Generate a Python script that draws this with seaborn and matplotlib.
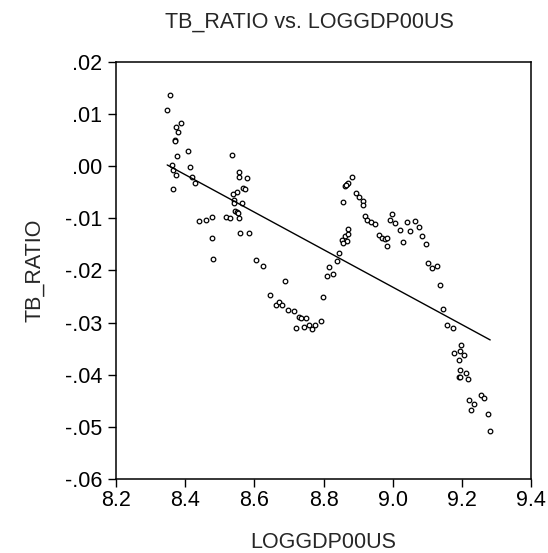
import matplotlib
matplotlib.use("Agg")
import matplotlib.pyplot as plt
import seaborn as sns
import pandas as pd

# values
loggdp = [8.356, 8.348, 8.387, 8.374, 8.380, 8.371, 8.371, 8.408, 8.377, 8.536,
          8.361, 8.415, 8.365, 8.374, 8.421, 8.556, 8.555, 8.579, 8.428, 8.365,
          8.566, 8.574, 8.550, 8.537, 8.541, 8.542, 8.564, 8.544, 8.549, 8.552,
          8.441, 8.460, 8.477, 8.519, 8.530, 8.555, 8.559, 8.585, 8.478, 8.481,
          8.606, 8.626, 8.690, 8.645, 8.662, 8.672, 8.680, 8.698, 8.714, 8.730,
          8.734, 8.749, 8.721, 8.745, 8.757, 8.767, 8.776, 8.793, 8.799, 8.810,
          8.815, 8.828, 8.839, 8.846, 8.853, 8.862, 8.867, 8.872, 8.856, 8.870,
          8.856, 8.862, 8.867, 8.872, 8.865, 8.883, 8.893, 8.903, 8.913, 8.915,
          8.920, 8.925, 8.938, 8.948, 8.961, 8.968, 8.979, 8.983, 8.984, 8.991,
          8.998, 9.006, 9.021, 9.030, 9.042, 9.049, 9.065, 9.077, 9.085, 9.096,
          9.101, 9.114, 9.128, 9.137, 9.145, 9.157, 9.174, 9.199, 9.177, 9.196,
          9.207, 9.193, 9.196, 9.213, 9.192, 9.196, 9.219, 9.254, 9.263, 9.221,
          9.235, 9.226, 9.276, 9.282]
tb_ratio = [0.0137, 0.0108, 0.0083, 0.0075, 0.0065, 0.0050, 0.0048, 0.0029, 0.0020, 0.0022,
            0.0002, -0.0001, -0.0008, -0.0016, -0.0020, -0.0011, -0.0020, -0.0022, -0.0033, -0.0043,
            -0.0042, -0.0044, -0.0049, -0.0053, -0.0065, -0.0071, -0.0071, -0.0086, -0.0087, -0.0089,
            -0.0106, -0.0103, -0.0098, -0.0097, -0.0100, -0.0099, -0.0129, -0.0128, -0.0138, -0.0178,
            -0.0180, -0.0192, -0.0221, -0.0248, -0.0266, -0.0260, -0.0266, -0.0275, -0.0277, -0.0289,
            -0.0292, -0.0292, -0.0310, -0.0308, -0.0304, -0.0313, -0.0304, -0.0297, -0.0250, -0.0210,
            -0.0194, -0.0206, -0.0181, -0.0166, -0.0141, -0.0134, -0.0143, -0.0131, -0.0148, -0.0120,
            -0.0069, -0.0038, -0.0035, -0.0033, -0.0036, -0.0020, -0.0051, -0.0060, -0.0067, -0.0074,
            -0.0096, -0.0104, -0.0107, -0.0110, -0.0132, -0.0138, -0.0139, -0.0138, -0.0154, -0.0103,
            -0.0091, -0.0108, -0.0123, -0.0146, -0.0107, -0.0125, -0.0105, -0.0117, -0.0134, -0.0149,
            -0.0186, -0.0196, -0.0192, -0.0227, -0.0273, -0.0304, -0.0311, -0.0342, -0.0358, -0.0355,
            -0.0363, -0.0372, -0.0391, -0.0397, -0.0405, -0.0405, -0.0408, -0.0438, -0.0445, -0.0448,
            -0.0456, -0.0467, -0.0476, -0.0507]

x_ticks = [8.2, 8.4, 8.6, 8.8, 9.0, 9.2, 9.4]
x_tick_labels = ["8.2", "8.4", "8.6", "8.8", "9.0", "9.2", "9.4"]
y_ticks = [0.02, 0.01, 0.00, -0.01, -0.02, -0.03, -0.04, -0.05, -0.06]
y_tick_labels = [".02", ".01", ".00", "-.01", "-.02", "-.03", "-.04", "-.05", "-.06"]

df = pd.DataFrame({"LOGGDP00US": loggdp, "TB_RATIO": tb_ratio})

sns.set_style("ticks")
plt.rcParams["font.family"] = ["Liberation Sans", "DejaVu Sans"]

fig, ax = plt.subplots(figsize=(5.48, 5.53), dpi=100)
fig.subplots_adjust(left=0.2117, right=0.969, top=0.888, bottom=0.1338)

sns.regplot(data=df, x="LOGGDP00US", y="TB_RATIO", ci=None, color="black", ax=ax,
            scatter_kws=dict(s=11, facecolors="white", edgecolors="black",
                             linewidths=0.9, alpha=1),
            line_kws=dict(color="black", lw=1.0))

ax.set_xlim(8.2, 9.4)
ax.set_ylim(-0.06, 0.02)
ax.set_xticks(x_ticks, x_tick_labels)
ax.set_yticks(y_ticks, y_tick_labels)
ax.tick_params(axis="both", direction="out", length=6, width=1, labelsize=15.5,
               color="black", labelcolor="black")
ax.tick_params(axis="x", pad=2)
ax.tick_params(axis="y", pad=4)
for sp in ax.spines.values():
    sp.set_visible(True)
    sp.set_linewidth(1.1)
    sp.set_color("black")

ax.set_xlabel("LOGGDP00US", fontsize=15.5, labelpad=15)
ax.set_ylabel("TB_RATIO", fontsize=15.5, labelpad=14)
ax.set_title("TB_RATIO vs. LOGGDP00US", fontsize=15.5, pad=25, x=0.467)

fig.savefig("out.png", dpi=100)
